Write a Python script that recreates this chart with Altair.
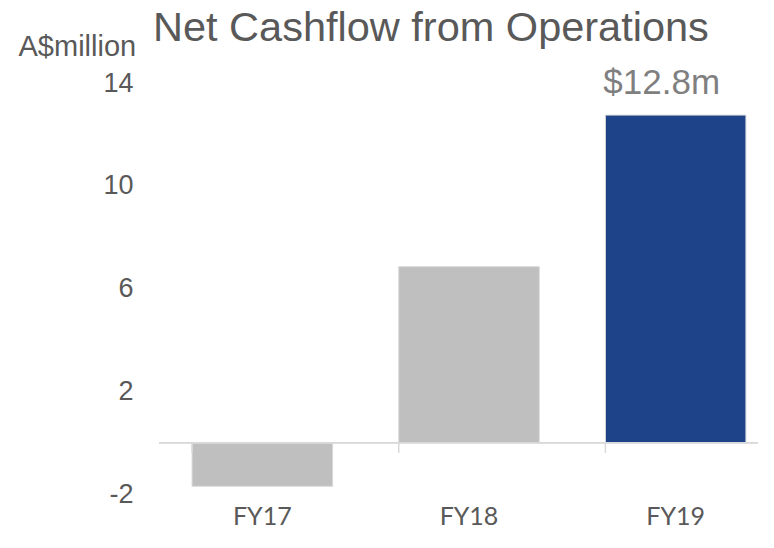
import altair as alt
import pandas as pd

years = ["FY17", "FY18", "FY19"]
values = [-1.7, 6.85, 12.75]
y_ticks = [-2, 2, 6, 10, 14]
highlight_year = "FY19"
highlight_label = "$12.8m"
title_text = "Net Cashflow from Operations"
unit_text = "A$million"

df = pd.DataFrame({"year": years, "value": values})
lab = pd.DataFrame({"year": [highlight_year], "value": [values[years.index(highlight_year)]], "label": [highlight_label]})
ttl = pd.DataFrame({"t": [title_text]})

W, H = 599, 411          # visible plot width / height
RANGE_W = 620            # band range runs past the right edge, like the reference
GRAY = "#595959"
FONT = "Liberation Sans"

xenc = alt.X("year:N", sort=years,
             scale=alt.Scale(paddingInner=0.32, paddingOuter=0.16, range=[0, RANGE_W]),
             axis=alt.Axis(title=None, domain=False, ticks=False, labelAngle=0,
                           labelFont="Lato", labelFontSize=25, labelColor=GRAY,
                           labelPadding=10))
yenc = alt.Y("value:Q", scale=alt.Scale(domain=[-2, 14], nice=False, zero=False),
             axis=alt.Axis(values=y_ticks, grid=False, domain=False, ticks=False,
                           labelExpr="'' + datum.value",
                           labelFont=FONT, labelFontSize=27, labelColor=GRAY,
                           labelPadding=26,
                           title=unit_text, titleAngle=0, titleAlign="left",
                           titleBaseline="alphabetic", titleX=-141, titleY=-28,
                           titleFont=FONT, titleFontSize=29, titleFontWeight="normal",
                           titleColor=GRAY))

bars = alt.Chart(df).mark_bar(stroke="#d9d9d9", strokeWidth=1).encode(
    x=xenc, y=yenc, y2=alt.datum(0),
    color=alt.condition(alt.datum.year == highlight_year, alt.value("#1f4388"), alt.value("#bfbfbf")),
)

zero = alt.Chart(df).mark_rule(color="#d9d9d9", strokeWidth=1.5).encode(
    y=alt.datum(0), x=alt.value(0), x2=alt.value(RANGE_W))

ticks = alt.Chart(df).mark_rule(color="#d9d9d9", strokeWidth=1.5).encode(
    x=alt.X("year:N", sort=years, bandPosition=0), y=alt.datum(0), y2=alt.datum(-0.4))

text = alt.Chart(lab).mark_text(font=FONT, fontSize=35, color="#7f7f7f", dy=-21, dx=-14,
                                baseline="alphabetic").encode(
    x=alt.X("year:N", sort=years), y="value:Q", text="label:N")

title = alt.Chart(ttl).mark_text(font=FONT, fontSize=41.5, color=GRAY, align="left",
                                 baseline="alphabetic").encode(
    x=alt.value(-6), y=alt.value(-42), text="t:N")

chart = alt.layer(bars, zero, ticks, text, title).properties(
    width=W, height=H,
    autosize=alt.AutoSizeParams(type="none"),
    padding={"left": 151, "top": 75, "right": 0, "bottom": 41},
).configure_view(stroke=None, clip=False)

chart.save("out.html", embed_options={"renderer": "svg", "actions": False})
